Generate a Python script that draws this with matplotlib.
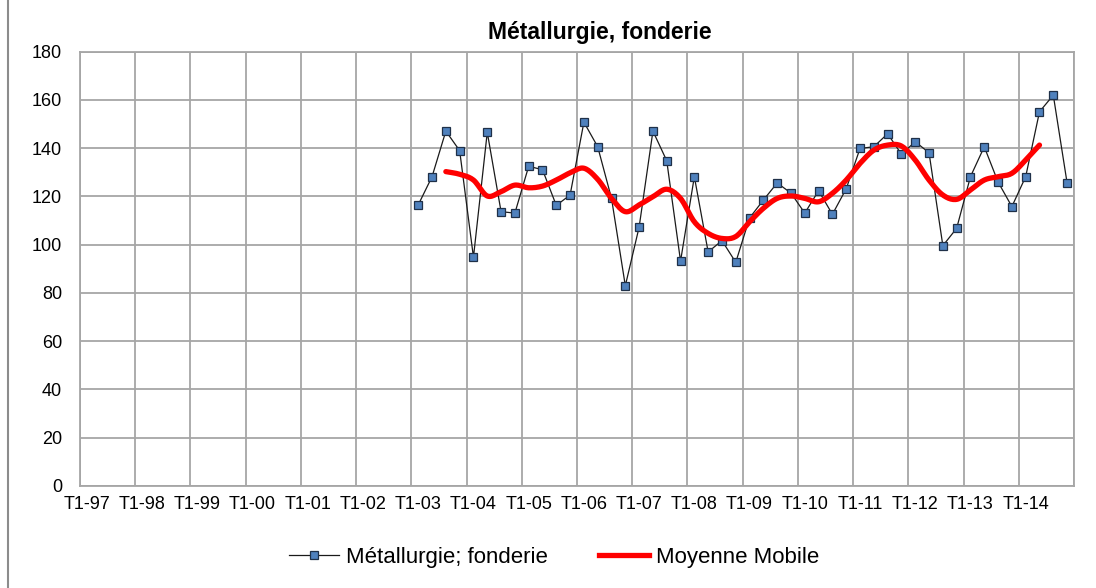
import numpy as np
import matplotlib
matplotlib.use("Agg")
import matplotlib.pyplot as plt
from matplotlib.lines import Line2D

plt.rcParams['font.family'] = ['Liberation Sans', 'DejaVu Sans']

# ---------------- data ----------------
years = ["97", "98", "99", "00", "01", "02", "03", "04", "05",
         "06", "07", "08", "09", "10", "11", "12", "13", "14"]
categories = [f"T{q}-{y}" for y in years for q in range(1, 5)]
tick_labels = [f"T1-{y}" for y in years]

series_name = "Métallurgie; fonderie"
ma_name = "Moyenne Mobile"
title = "Métallurgie, fonderie"

series_start = "T1-03"
series_values = [116.5, 128.2, 147.1, 139.0, 94.8, 146.6, 113.7, 113.1,
                 132.5, 131.1, 116.3, 120.6, 150.8, 140.6, 119.2, 83.0,
                 107.3, 147.1, 134.8, 93.2, 128.2, 97.0, 101.7, 92.7,
                 111.1, 118.5, 125.6, 121.4, 113.1, 122.4, 112.6, 123.2,
                 139.9, 140.6, 146.0, 137.5, 142.7, 138.1, 99.6, 106.8,
                 128.2, 140.6, 126.0, 115.8, 128.2, 155.1, 162.0, 125.6]

ma_start = "T3-03"
ma_values = [130.3, 129.2, 126.8, 120.2, 122.0, 124.7, 123.6, 124.3,
             126.8, 129.8, 131.7, 127.1, 119.2, 113.7, 116.5, 119.9,
             123.0, 119.2, 109.5, 104.7, 102.6, 103.4, 109.5, 115.1,
             119.2, 120.2, 119.2, 117.8, 121.3, 126.8, 133.7, 139.2,
             141.3, 140.9, 135.1, 126.8, 120.6, 118.8, 122.7, 126.8,
             128.2, 129.6, 135.1, 141.3]

y_ticks = [0, 20, 40, 60, 80, 100, 120, 140, 160, 180]


def smooth(x, y, n=12):
    """Catmull-Rom curve through the points (visual smoothing only)."""
    x = np.asarray(x, float)
    y = np.asarray(y, float)
    px = np.concatenate([[2 * x[0] - x[1]], x, [2 * x[-1] - x[-2]]])
    py = np.concatenate([[2 * y[0] - y[1]], y, [2 * y[-1] - y[-2]]])
    ox, oy = [], []
    t = np.linspace(0, 1, n, endpoint=False)
    for i in range(1, len(px) - 2):
        for arr, out in ((px, ox), (py, oy)):
            p0, p1, p2, p3 = arr[i - 1], arr[i], arr[i + 1], arr[i + 2]
            out.extend(0.5 * ((2 * p1) + (-p0 + p2) * t
                              + (2 * p0 - 5 * p1 + 4 * p2 - p3) * t ** 2
                              + (-p0 + 3 * p1 - 3 * p2 + p3) * t ** 3))
    ox.append(x[-1])
    oy.append(y[-1])
    return np.array(ox), np.array(oy)


# ---------------- figure ----------------
fig = plt.figure(figsize=(10.96, 5.88), dpi=100)
ax = fig.add_axes([80 / 1096, 1 - 486 / 588, (1074 - 80) / 1096, (486 - 51.7) / 588])

s0 = categories.index(series_start)
xs = np.arange(s0, s0 + len(series_values))
m0 = categories.index(ma_start)
xm = np.arange(m0, m0 + len(ma_values))

grid_c = "#A6A6A6"
ax.set_xlim(-0.5, len(categories) - 0.5)
ax.set_ylim(0, 180)
ax.set_yticks(y_ticks)
ax.set_xticks(np.arange(-0.5, len(categories), 4))
ax.set_xticklabels([])
ax.set_xticks(np.arange(0, len(categories), 4), minor=True)
ax.set_xticklabels(tick_labels, minor=True)
ax.tick_params(axis="x", which="both", length=0, pad=7, labelsize=13, colors="black")
ax.tick_params(axis="y", length=0, pad=13, labelsize=13)
ax.grid(True, which="major", color=grid_c, linewidth=1.3)
for sp in ax.spines.values():
    sp.set_color(grid_c)
    sp.set_linewidth(1.3)
ax.set_axisbelow(True)

ax.plot(xs, series_values, color="#1a1a1a", linewidth=0.9,
        marker="s", markersize=5.6, markerfacecolor="#4F81BD",
        markeredgecolor="#1F3048", markeredgewidth=0.9, zorder=3)
sx, sy = smooth(xm, ma_values)
ax.plot(sx, sy, color="#FF0000", linewidth=3.8, solid_capstyle="round",
        solid_joinstyle="round", zorder=4)

fig.text(600 / 1096, 1 - 33 / 588, title, ha="center", va="center",
         fontsize=16.5, fontweight="bold")

handles = [
    Line2D([], [], color="#1a1a1a", linewidth=0.9, marker="s", markersize=5.6,
           markerfacecolor="#4F81BD", markeredgecolor="#1F3048", markeredgewidth=0.9),
    Line2D([], [], color="#FF0000", linewidth=3.8),
]
fig.legend(handles, [series_name, ma_name], loc="center",
           bbox_to_anchor=(554 / 1096, 1 - 557 / 588), ncol=2, frameon=False,
           fontsize=16, handlelength=2.25, handletextpad=0.3, columnspacing=2.3)

fig.add_artist(Line2D([8 / 1096, 8 / 1096], [0, 1], color="#8C8C8C",
                      linewidth=1.5, transform=fig.transFigure))

fig.savefig("out.png", dpi=100)
